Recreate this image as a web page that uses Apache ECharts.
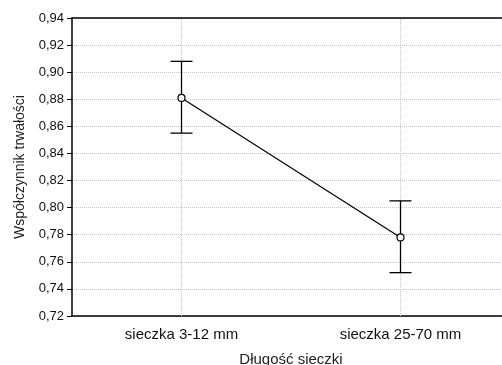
<!DOCTYPE html>
<html>
<head>
<meta charset="utf-8">
<script src="https://cdn.jsdelivr.net/npm/echarts@6/dist/echarts.min.js"></script>
<style>
html, body { margin: 0; padding: 0; background: #fff; }
#chart { width: 502px; height: 365px; }
</style>
</head>
<body>
<div id="chart"></div>
<script>
var categories = ['sieczka 3-12 mm', 'sieczka 25-70 mm'];
var means = [0.881, 0.778];
var lower = [0.855, 0.752];
var upper = [0.908, 0.805];
var yTicks = { min: 0.72, max: 0.94, step: 0.02 };

var chart = echarts.init(document.getElementById('chart'));

var errData = categories.map(function (c, i) {
    return [i, lower[i], upper[i]];
});

var font = 'Liberation Sans, Arial, sans-serif';

chart.setOption({
    animation: false,
    grid: {
        left: 72,
        top: 18,
        width: 438,
        height: 298,
        outerBoundsMode: 'none'
    },
    xAxis: [{
        type: 'category',
        data: categories,
        position: 'bottom',
        boundaryGap: true,
        name: 'Długość sieczki',
        nameLocation: 'middle',
        nameGap: 36,
        nameTextStyle: { color: '#222', fontSize: 15, fontFamily: font },
        axisLine: { lineStyle: { color: '#000', width: 1.5 } },
        axisTick: { alignWithLabel: true, length: 3, lineStyle: { color: '#000' } },
        axisLabel: { color: '#111', fontSize: 15, fontFamily: font, margin: 11 },
        splitLine: { show: false }
    }, {
        type: 'category',
        data: categories,
        position: 'top',
        boundaryGap: true,
        axisLine: { lineStyle: { color: '#000', width: 1.5 } },
        axisTick: { alignWithLabel: true, inside: true, length: 3, lineStyle: { color: '#000' } },
        axisLabel: { show: false },
        splitLine: { show: false }
    }],
    yAxis: {
        type: 'value',
        min: yTicks.min,
        max: yTicks.max,
        interval: yTicks.step,
        name: 'Współczynnik trwałości',
        nameLocation: 'middle',
        nameGap: 45,
        nameTextStyle: { color: '#222', fontSize: 14, fontFamily: font },
        axisLine: { show: true, lineStyle: { color: '#000', width: 1.5 } },
        axisTick: { show: true, length: 5, lineStyle: { color: '#000' } },
        axisLabel: {
            color: '#111', fontSize: 13, fontFamily: font, margin: 8,
            formatter: function (v) { return v.toFixed(2).replace('.', ','); }
        },
        splitLine: { show: true, lineStyle: { color: '#c8c8c8', type: 'dotted' } }
    },
    series: [{
        type: 'custom',
        xAxisIndex: 0,
        data: errData,
        z: 3,
        renderItem: function (params, api) {
            var x = api.value(0);
            var lo = api.coord([x, api.value(1)]);
            var hi = api.coord([x, api.value(2)]);
            var half = 11;
            var style = { stroke: '#000', lineWidth: 1.3 };
            return {
                type: 'group',
                children: [
                    { type: 'line', shape: { x1: lo[0], y1: lo[1], x2: hi[0], y2: hi[1] }, style: style },
                    { type: 'line', shape: { x1: lo[0] - half, y1: lo[1], x2: lo[0] + half, y2: lo[1] }, style: style },
                    { type: 'line', shape: { x1: hi[0] - half, y1: hi[1], x2: hi[0] + half, y2: hi[1] }, style: style }
                ]
            };
        }
    }, {
        type: 'line',
        xAxisIndex: 0,
        data: means,
        z: 5,
        symbol: 'circle',
        symbolSize: 7,
        lineStyle: { color: '#000', width: 1.2 },
        itemStyle: { color: '#fff', borderColor: '#000', borderWidth: 1.2 },
        markLine: {
            silent: true,
            symbol: 'none',
            label: { show: false },
            z: 1,
            lineStyle: { color: '#c8c8c8', type: 'dotted', width: 1 },
            data: categories.map(function (c) { return { xAxis: c }; })
        }
    }]
});
</script>
</body>
</html>
